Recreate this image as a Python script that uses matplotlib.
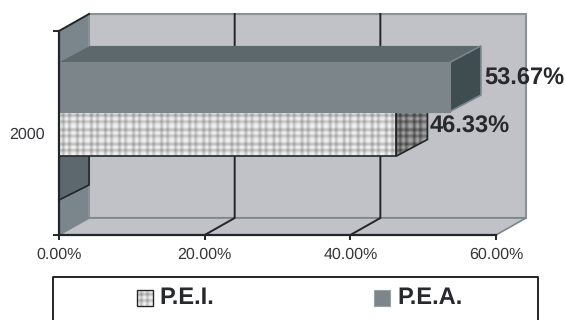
import numpy as np
import matplotlib
matplotlib.use("Agg")
import matplotlib.pyplot as plt
from matplotlib.patches import Polygon, Rectangle

category = "2000"
series_names = ["P.E.I.", "P.E.A."]
series_values = [46.33, 53.67]
x_ticks = [0, 20, 40, 60]
x_tick_labels = ["0.00%", "20.00%", "40.00%", "60.00%"]

W, H = 565, 320
# depth of the 3D box, in axis units
DX = 30 / 7.28
DY = 17 / 204

WALL = "#c1c2c7"
SIDE = "#7a858c"
DARK = "#222629"
TEXT = "#333538"

plt.rcParams["font.family"] = ["Liberation Sans", "DejaVu Sans"]
plt.rcParams["text.hinting"] = "none"

fig = plt.figure(figsize=(W / 100, H / 100), dpi=100)
ax = fig.add_axes([59 / W, 1 - 235 / H, (496 - 59) / W, 204 / H])
ax.patch.set_visible(False)
for s in ax.spines.values():
    s.set_visible(False)


def poly(pts, fc, ec="none", lw=0.0, z=1):
    p = Polygon(pts, closed=True, fc=fc, ec=ec, lw=lw, zorder=z, clip_on=False)
    ax.add_patch(p)
    return p


# back wall, floor and left wall
poly([(0, 0), (DX, DY), (DX, 1 + DY), (0, 1)], SIDE, z=1)
poly([(DX, DY), (60 + DX, DY), (60 + DX, 1 + DY), (DX, 1 + DY)], WALL, ec="#8a9298", lw=1.5, z=1)
poly([(0, 0), (60, 0), (60 + DX, DY), (DX, DY)], WALL, ec="#7a858c", lw=1.2, z=1.2)

# gridlines on the wall and the floor
for t in x_ticks[1:-1]:
    ax.plot([t, t + DX, t + DX], [0, DY, 1 + DY], color=DARK, lw=1.4, zorder=1.5, clip_on=False)

# bar slots, front face
pei_bottom, pei_top = 0.387, 0.605
pea_bottom, pea_top = 0.605, 0.846
bar_dx = 31 / 7.28
bar_dy = 16.5 / 204

# shadow of the lower bar on the left wall
poly([(0, 35 / 204), (DX, 50 / 204), (DX, pei_bottom), (0, pei_bottom)], "#5c686d", z=1.6)
ax.plot([0, DX, DX], [35 / 204, 50 / 204, pei_bottom], color=DARK, lw=1.2, zorder=1.7, clip_on=False)

# plaid fabric used by the P.E.I. series, one value per pixel
stripe = np.array([0.97, 0.97, 0.92, 0.82, 0.78, 0.85, 0.94, 0.98, 0.94, 0.84, 0.80, 0.86, 0.93, 0.97])
plaid = np.outer(np.tile(stripe, 4)[:44], np.tile(stripe, 25)[:337])

v_i, v_a = series_values

# P.E.I. bar
ax.imshow(plaid, cmap="gray", vmin=0, vmax=1, extent=(0, v_i, pei_bottom, pei_top),
          aspect="auto", zorder=2, interpolation="bilinear")
ax.plot([0, v_i, v_i], [pei_bottom, pei_bottom, pei_top], color=DARK, lw=1.2, zorder=2.2, clip_on=False)
side_pts = [(v_i, pei_bottom), (v_i + bar_dx, pei_bottom + bar_dy), (v_i + bar_dx, pei_top), (v_i, pei_top)]
side_img = ax.imshow((plaid[:44, :32] ** 2) * 0.72, cmap="gray", vmin=0, vmax=1,
                     extent=(v_i, v_i + bar_dx, pei_bottom, pei_top), aspect="auto", zorder=2.05,
                     interpolation="bilinear")
side = poly(side_pts, "none", ec=DARK, lw=1.2, z=2.1)
side_img.set_clip_on(True)
side_img.set_clip_path(side)

# P.E.A. bar
poly([(0, pea_top), (bar_dx, pea_top + bar_dy), (v_a + bar_dx, pea_top + bar_dy), (v_a, pea_top)], "#5c686b", z=3)
poly([(v_a, pea_bottom), (v_a + bar_dx, pea_bottom + bar_dy), (v_a + bar_dx, pea_top + bar_dy), (v_a, pea_top)],
     "#3f4c50", ec="#7a858c", lw=1.2, z=3)
ax.add_patch(Rectangle((0, pea_bottom), v_a, pea_top - pea_bottom, fc="#7b858a", ec="#7b858a", lw=0.8,
                       zorder=3.2, clip_on=False))

# left and bottom axis lines
ax.plot([0, 0], [0, 1], color=DARK, lw=1.6, zorder=5, clip_on=False)
ax.plot([0, 60], [0, 0], color=DARK, lw=1.6, zorder=5, clip_on=False)
ax.plot([0, DX], [1, 1 + DY], color=DARK, lw=1.4, zorder=5, clip_on=False)

ax.set_xlim(0, 60)
ax.set_ylim(0, 1)
ax.set_xticks(x_ticks)
ax.set_xticklabels(x_tick_labels, fontsize=11.5, color=TEXT)
ax.set_yticks([0, 1])
ax.set_yticklabels(["", ""])
ax.tick_params(axis="x", length=3.8, width=1.4, color=DARK, pad=5)
ax.tick_params(axis="y", length=4.3, width=1.4, color=DARK)

ax.text(-1.9, (pei_bottom + pei_top) / 2 - 0.005, category, ha="right", va="center", fontsize=11.5, color=TEXT)

# value labels next to the bars
ax.text(v_a + bar_dx + 0.45, 0.765, f"{v_a:.2f}%", ha="left", va="center", fontsize=17, fontweight="bold",
        color="#27292c", zorder=6, clip_on=False)
ax.text(v_i + bar_dx + 0.3, 0.53, f"{v_i:.2f}%", ha="left", va="center", fontsize=17, fontweight="bold",
        color="#27292c", zorder=6, clip_on=False)

# legend box, placed in figure pixels
leg = fig.add_axes([0, 0, 1, 1])
leg.axis("off")
leg.patch.set_visible(False)
leg.plot([53, 53, 538, 538], [H + 2, 277, 277, H + 2], color=DARK, lw=1.4)

leg.imshow(plaid[:16, :16], cmap="gray", vmin=0, vmax=1, extent=(137, 153, 306, 290), aspect="auto", zorder=2)
leg.add_patch(Rectangle((137, 290), 16, 16, fc="none", ec=DARK, lw=1.0, zorder=3))
leg.add_patch(Rectangle((373.5, 290), 16, 16, fc="#7b858a", ec="#9aa1a5", lw=0.8, zorder=3))
leg.text(159.5, 298, series_names[0], ha="left", va="center", fontsize=17, fontweight="bold", color="#27292c")
leg.text(397, 298, series_names[1], ha="left", va="center", fontsize=17, fontweight="bold", color="#27292c")
leg.set_xlim(0, W)
leg.set_ylim(H, 0)

fig.savefig("out.png", dpi=100)
